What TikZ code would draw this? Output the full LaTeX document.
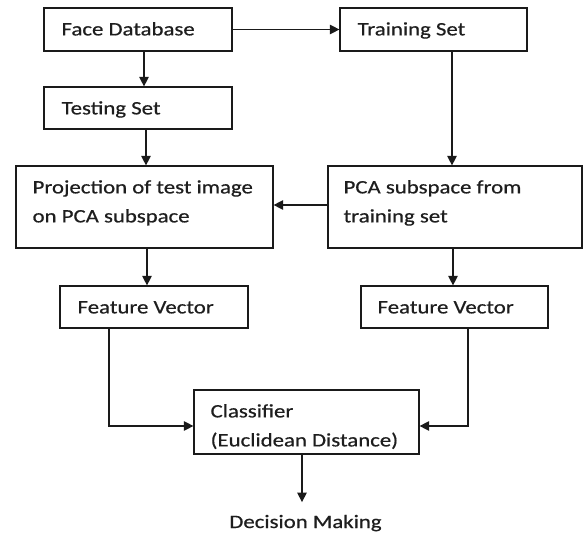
\documentclass[tikz,border=0pt]{standalone}
\usepackage{fontspec}
\setmainfont{Carlito}[FakeStretch=1.2,FakeBold=0.6]
\usetikzlibrary{arrows.meta}
\definecolor{ink}{HTML}{1A1A1A}
\definecolor{txt}{HTML}{1E1E1E}
\tikzset{
  box/.style={draw=ink, line width=1.2pt, rectangle, inner sep=0pt},
  lbl/.style={anchor=base west, inner sep=0pt, text=txt, font=\fontsize{19}{29}\selectfont},
  arr/.style={draw=ink, line width=1.2pt, -{Triangle[width=9.5pt,length=9.5pt]}},
  ln/.style={draw=ink, line width=1.2pt}
}
\begin{document}
\begin{tikzpicture}[x=1pt,y=1pt]
\useasboundingbox (0,0) rectangle (584,-535);
% boxes
\node[box, minimum width=188pt, minimum height=43pt] (FD) at (138,-29.5) {};
\node[box, minimum width=188pt, minimum height=42pt] (TS) at (138,-108) {};
\node[box, minimum width=187pt, minimum height=43pt] (TR) at (433.5,-29.5) {};
\node[box, minimum width=257pt, minimum height=82pt] (PR) at (144.5,-207) {};
\node[box, minimum width=254pt, minimum height=82pt] (PCA) at (455,-207) {};
\node[box, minimum width=188pt, minimum height=42pt] (FVL) at (154,-307) {};
\node[box, minimum width=187pt, minimum height=42pt] (FVR) at (454.5,-307) {};
\node[box, minimum width=225pt, minimum height=64pt] (CL) at (306.5,-422) {};
% labels
\node[lbl] (tFD) at ([xshift=18pt,yshift=-28pt]FD.north west) {Face Database};
\node[lbl] (tTS) at ([xshift=18pt,yshift=-28pt]TS.north west) {Testing Set};
\node[lbl] (tTR) at ([xshift=18pt,yshift=-28pt]TR.north west) {Training Set};
\node[lbl] (tPR1) at ([xshift=17pt,yshift=-28pt]PR.north west) {Projection of test image};
\node[lbl] (tPR2) at ([yshift=-29pt]tPR1.base west) {on PCA subspace};
\node[lbl] (tPCA1) at ([xshift=16pt,yshift=-28pt]PCA.north west) {PCA subspace from};
\node[lbl] (tPCA2) at ([yshift=-29pt]tPCA1.base west) {training set};
\node[lbl] (tFVL) at ([xshift=18pt,yshift=-28pt]FVL.north west) {Feature Vector};
\node[lbl] (tFVR) at ([xshift=17pt,yshift=-28pt]FVR.north west) {Feature Vector};
\node[lbl] (tCL1) at ([xshift=17pt,yshift=-28pt]CL.north west) {Classifier};
\node[lbl] (tCL2) at ([yshift=-29pt]tCL1.base west) {(Euclidean Distance)};
\node[lbl, anchor=base] (DM) at (305.5,-528) {Decision Making};
% connectors
\draw[arr] ([xshift=6pt]FD.south) -- ([xshift=6pt]TS.north);
\draw[arr] (FD.east) -- (TR.west);
\draw[arr] ([xshift=8pt]TS.south) -- ([xshift=1.5pt]PR.north);
\draw[arr] ([xshift=18.5pt]TR.south) -- ([xshift=-3pt]PCA.north);
\draw[arr] ([yshift=2pt]PCA.west) -- ([yshift=2pt]PR.east);
\draw[arr] ([xshift=2.5pt]PR.south) -- ([xshift=-7pt]FVL.north);
\draw[arr] ([xshift=-2pt]PCA.south) -- ([xshift=-1.5pt]FVR.north);
\draw[arr] ([xshift=-45pt]FVL.south) |- ([yshift=-4pt]CL.west);
\draw[arr] ([xshift=13.5pt]FVR.south) |- ([yshift=-4pt]CL.east);
\draw[arr] ([xshift=-4.5pt]CL.south) -- ([xshift=-3.5pt,yshift=12.5pt]DM.north);
\end{tikzpicture}
\end{document}
